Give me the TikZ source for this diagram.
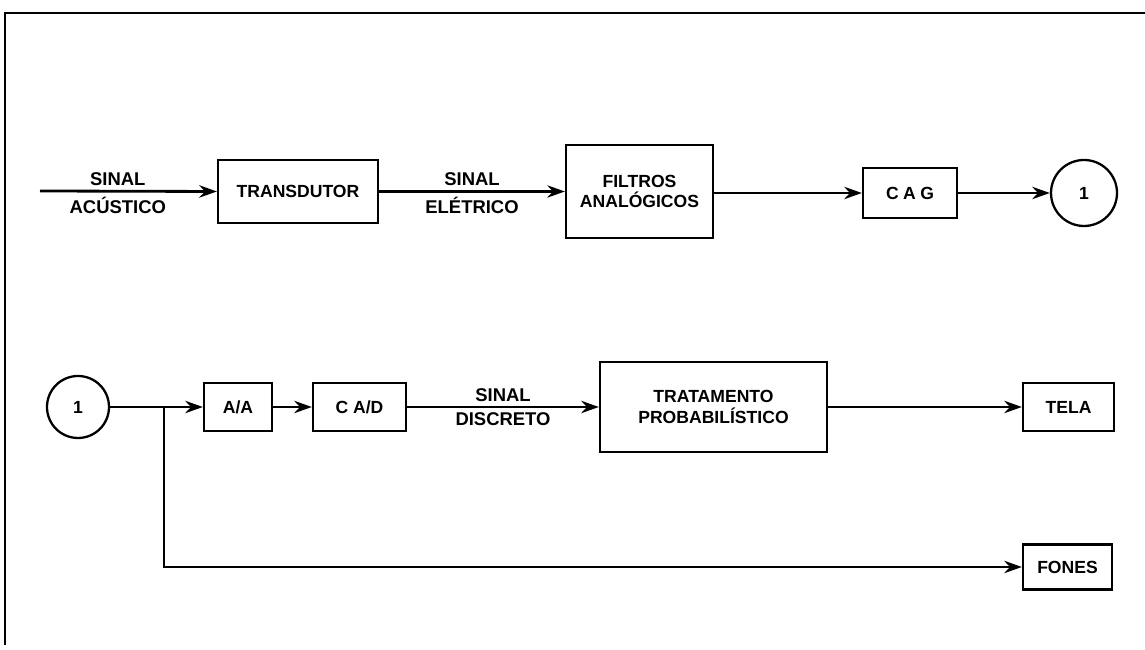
\documentclass[tikz,border=0pt]{standalone}
\usepackage{fontspec}
\setmainfont{Liberation Sans}
\usetikzlibrary{arrows.meta,positioning}

\begin{document}
\begin{tikzpicture}[
    every node/.style={font=\fontsize{10}{11.5}\selectfont\bfseries},
    blk/.style={draw, line width=1.3pt, minimum height=0.96cm, inner sep=2pt, align=center},
    cnx/.style={circle, draw, line width=1.3pt, inner sep=0pt},
    flow/.style={line width=1.6pt, -{Stealth[length=10pt,width=7pt]}},
    lbl/.style={inner sep=2.5pt, font=\fontsize{10.5}{12}\selectfont\bfseries}
]
    \useasboundingbox (0,0) rectangle (22.9,13);

    % --- Frame ---
    \draw[line width=1.6pt] (22.9,12.74) -- (0.1,12.74) -- (0.1,0.1);

    % --- First row ---
    \coordinate (in) at (0.8,9.18);
    \node[blk, minimum width=3.2cm, minimum height=1.26cm] (transd) at (5.96,9.17) {TRANSDUTOR};
    \node[blk, minimum width=2.94cm, minimum height=1.86cm] (filtros) at (12.79,9.17) {FILTROS\\ANAL\'OGICOS};
    \node[blk, minimum width=1.88cm, minimum height=1.0cm] (cag) at (18.2,9.14) {\addfontfeatures{LetterSpace=25}CAG};
    \node[cnx, minimum size=1.32cm] (out1) at (21.68,9.14) {1};

    \draw[flow] (in) -- (transd.west)
        node[lbl, pos=0.44, above] {SINAL} node[lbl, pos=0.44, below] {AC\'USTICO};
    \draw[flow] (transd) -- (filtros.west |- transd)
        node[lbl, midway, above] {SINAL} node[lbl, midway, below] {EL\'ETRICO};
    \draw[flow] (filtros.east |- cag) -- (cag);
    \draw[flow] (cag) -- (out1);

    % --- Second row ---
    \node[cnx, minimum size=1.24cm] (in1) at (1.56,4.86) {1};
    \node[blk, minimum width=1.36cm] (aa) at (4.76,4.86) {A/A};
    \node[blk, minimum width=1.86cm] (cad) at (7.19,4.86) {C A/D};
    \node[blk, minimum width=4.54cm, minimum height=1.8cm] (trat) at (14.27,4.86) {TRATAMENTO\\PROBABIL\'ISTICO};
    \node[blk, minimum width=1.82cm] (tela) at (21.37,4.86) {TELA};
    \node[blk, minimum width=1.78cm, minimum height=0.9cm] (fones) at (21.35,1.66) {FONES};
    \coordinate (split) at (3.28,4.86);

    \draw[line width=1.6pt] (in1) -- (split);
    \draw[flow] (split) -- (aa);
    \draw[flow] (aa) -- (cad);
    \draw[flow] (cad) -- (trat)
        node[lbl, midway, above] {SINAL} node[lbl, midway, below] {DISCRETO};
    \draw[flow] (trat) -- (tela);
    \draw[flow] (split) |- (fones);
\end{tikzpicture}
\end{document}
